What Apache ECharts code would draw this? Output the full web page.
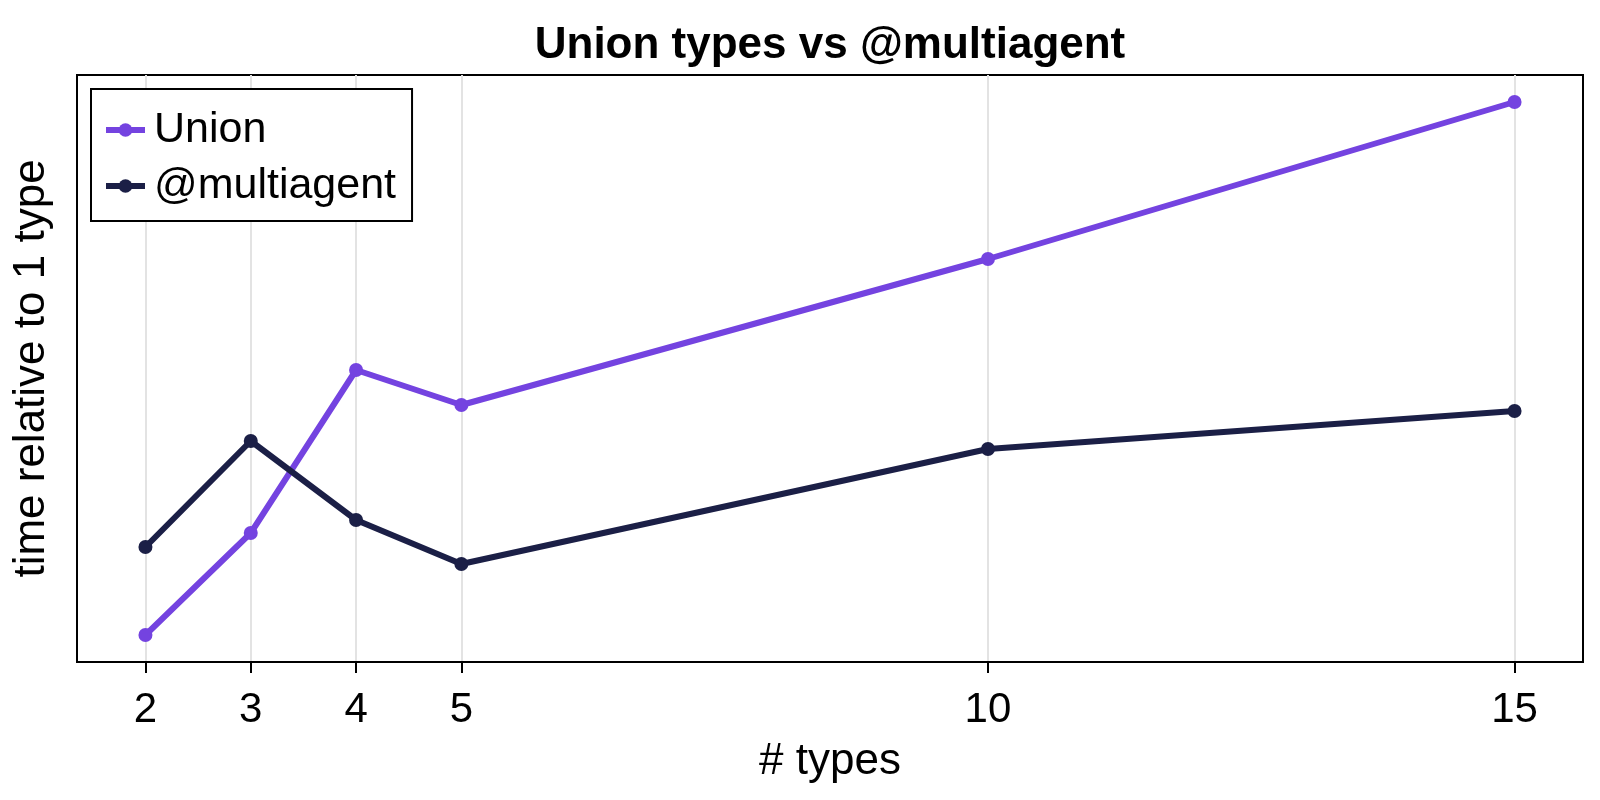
<!DOCTYPE html>
<html>
<head>
<meta charset="utf-8">
<script src="https://cdn.jsdelivr.net/npm/echarts@6/dist/echarts.min.js"></script>
<style>html,body{margin:0;padding:0;background:#fff}#c{width:1600px;height:800px}</style>
</head>
<body>
<div id="c"></div>
<script>
const numTypes = [2, 3, 4, 5, 10, 15];
const unionTimes = [0.27, 1.29, 2.92, 2.57, 4.03, 5.60];
const multiagentTimes = [1.15, 2.21, 1.42, 0.98, 2.13, 2.51];
const xTicks = [2, 3, 4, 5, 10, 15];

const FONT = '"Liberation Sans", Arial, Helvetica, sans-serif';
const chart = echarts.init(document.getElementById('c'), null, {renderer: 'canvas'});
const pair = (xs, ys) => xs.map((x, i) => [x, ys[i]]);

chart.setOption({
  backgroundColor: '#ffffff',
  animation: false,
  textStyle: {fontFamily: FONT},
  title: {
    text: 'Union types vs @multiagent',
    left: 830, top: 21, textAlign: 'center', padding: 0,
    textStyle: {fontFamily: FONT, fontSize: 44, fontWeight: 'bold', color: '#000', lineHeight: 50}
  },
  grid: {left: 77, right: 17, top: 75, bottom: 138, show: true, borderColor: '#000', borderWidth: 2, containLabel: false},
  legend: {
    left: 91, top: 89, orient: 'vertical',
    backgroundColor: '#fff', borderColor: '#000', borderWidth: 2, borderRadius: 0,
    padding: [17, 16, 11, 12], itemGap: 8, itemWidth: 39, itemHeight: 17,
    lineStyle: {width: 6},
    textStyle: {fontFamily: FONT, fontSize: 43, lineHeight: 48, color: '#000', padding: [0, 0, 0, 4]},
    data: ['Union', '@multiagent']
  },
  xAxis: {
    type: 'value', min: 1.35, max: 15.65,
    name: '# types', nameLocation: 'middle', nameGap: 78,
    nameTextStyle: {fontFamily: FONT, fontSize: 44, color: '#000'},
    axisLine: {show: true, lineStyle: {color: '#000', width: 2}},
    axisTick: {show: true, inside: false, length: 11, lineStyle: {color: '#000', width: 2}, customValues: xTicks},
    axisLabel: {show: true, margin: 27, fontFamily: FONT, fontSize: 42, color: '#000', customValues: xTicks, formatter: v => String(v)},
    splitLine: {show: true, lineStyle: {color: '#e3e3e3', width: 2}}
  },
  yAxis: {
    type: 'value', min: 0, max: 5.87,
    name: 'time relative to 1 type', nameLocation: 'middle', nameGap: 23, nameRotate: 90,
    nameTextStyle: {fontFamily: FONT, fontSize: 44, color: '#000'},
    axisLine: {show: true, lineStyle: {color: '#000', width: 2}},
    axisTick: {show: false}, axisLabel: {show: false}, splitLine: {show: false}
  },
  series: [
    {
      name: 'Union', type: 'line', data: pair(numTypes, unionTimes),
      symbol: 'circle', symbolSize: 14, showSymbol: true,
      lineStyle: {color: '#7443E0', width: 6}, itemStyle: {color: '#7443E0'}, z: 3
    },
    {
      name: '@multiagent', type: 'line', data: pair(numTypes, multiagentTimes),
      symbol: 'circle', symbolSize: 14, showSymbol: true,
      lineStyle: {color: '#1B1F46', width: 6}, itemStyle: {color: '#1B1F46'}, z: 4
    }
  ]
});
</script>
</body>
</html>
